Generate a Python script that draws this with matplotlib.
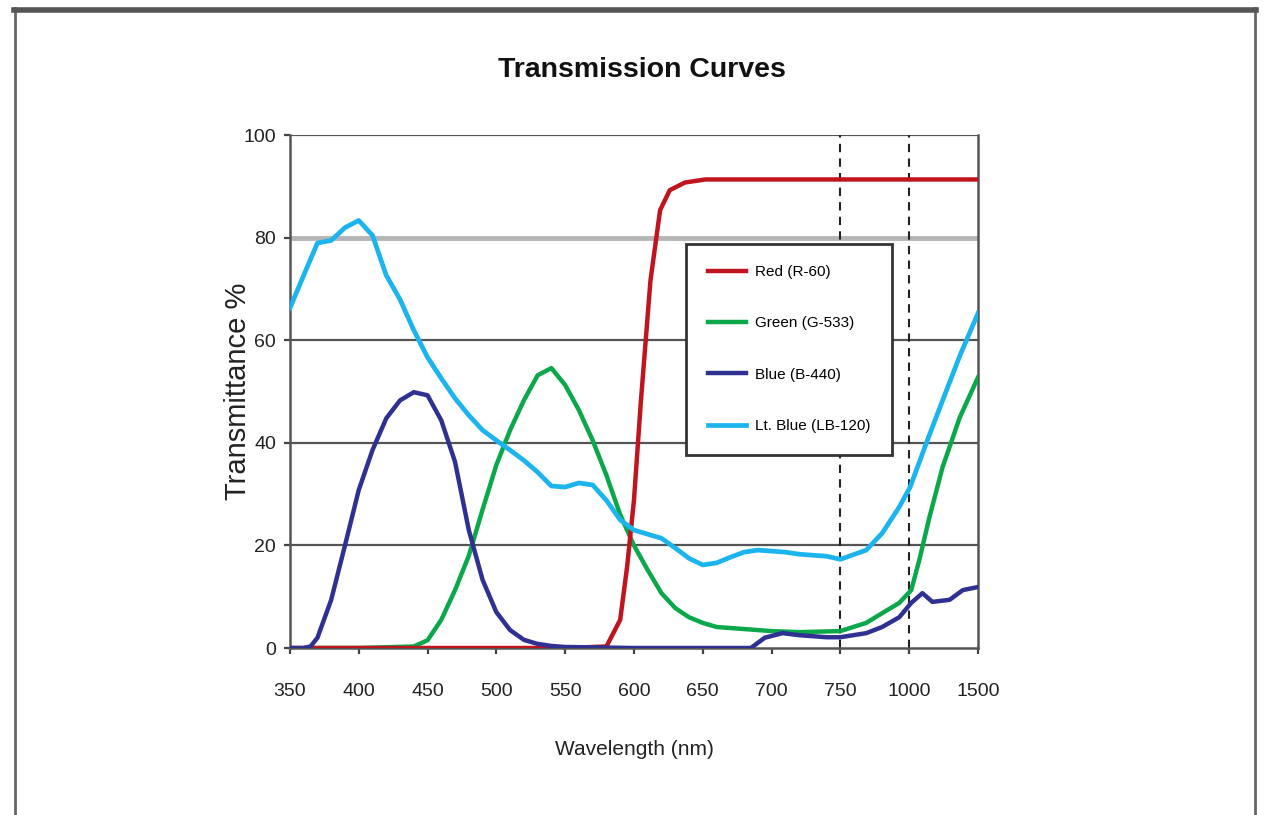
import numpy as np
import matplotlib.pyplot as plt
from matplotlib.lines import Line2D

plt.rcParams['font.family'] = ['Liberation Sans', 'DejaVu Sans']

# axis breaks: equal spacing per tick, even though the last two steps are 250 and 500 nm
tick_nm = [350, 400, 450, 500, 550, 600, 650, 700, 750, 1000, 1500]
tick_labels = [str(t) for t in tick_nm]

red_nm = [350, 440, 500, 550, 580, 590, 595, 600, 605, 612, 619, 626, 637, 652, 700, 750, 1000, 1500]
red_pct = [0, 0, 0, 0, 0.3, 5.5, 15.8, 28.8, 48, 71.7, 85.4, 89.3, 90.8, 91.4, 91.4, 91.4, 91.4, 91.4]

green_nm = [362, 400, 440, 450, 460, 470, 480, 490, 500, 510, 520, 530, 540, 550, 560, 570, 580,
            590, 600, 610, 620, 630, 640, 650, 660, 680, 700, 720, 750, 844, 902, 964, 1015,
            1074, 1147, 1243, 1368, 1500]
green_pct = [0, 0, 0.3, 1.5, 5.5, 11.3, 18, 27, 35.7, 42.5, 48.3, 53.2, 54.6, 51.3, 46.4, 40.5, 33.7,
             26, 20, 15.2, 10.7, 7.8, 6, 4.9, 4.1, 3.7, 3.3, 3.1, 3.3, 4.9, 6.8, 8.8, 11.3,
             17.2, 25.5, 35.3, 45, 52.8]

blue_nm = [350, 360, 365, 370, 380, 390, 400, 410, 420, 430, 440, 450, 460, 470, 480, 490, 500,
           510, 520, 530, 540, 550, 600, 685, 695, 708, 720, 740, 750, 844, 902, 964, 1015,
           1096, 1169, 1294, 1390, 1500]
blue_pct = [0, 0, 0.3, 2, 9.4, 20, 30.8, 38.6, 44.8, 48.3, 49.9, 49.3, 44.4, 36.3, 23, 13.3, 7,
            3.5, 1.6, 0.8, 0.4, 0.2, 0, 0, 2, 2.9, 2.5, 2.1, 2.1, 2.9, 4.1, 6, 8.8,
            10.7, 9, 9.4, 11.3, 11.9]

ltblue_nm = [350, 360, 370, 380, 390, 400, 410, 420, 430, 440, 450, 460, 470, 480, 490, 500,
             510, 520, 530, 540, 550, 560, 570, 580, 590, 600, 610, 620, 630, 640, 650, 660,
             670, 680, 690, 700, 710, 720, 730, 740, 750, 844, 902, 964, 1007, 1125, 1243,
             1368, 1500]
ltblue_pct = [66.3, 72.7, 79, 79.5, 82, 83.4, 80.5, 72.7, 68, 62, 56.7, 52.6, 48.7, 45.4, 42.5, 40.5,
              38.6, 36.6, 34.3, 31.6, 31.4, 32.2, 31.8, 28.8, 25, 23, 22.2, 21.4, 19.5, 17.5, 16.2, 16.6,
              17.7, 18.7, 19.1, 18.9, 18.7, 18.3, 18.1, 17.9, 17.3, 19.1, 22.4, 27.5, 31.4, 40, 48.3,
              57, 65.3]


def to_pos(nm):
    return np.interp(nm, tick_nm, np.arange(len(tick_nm)))


fig = plt.figure(figsize=(12.66, 8.15), dpi=100)
ax = fig.add_axes([0.229, 0.2049, 0.5435, 0.629])

# horizontal grid; the 80 % line is drawn lighter and wider
for y in [20, 40, 60, 100]:
    ax.axhline(y, color='#555555', lw=1.6, zorder=1)
ax.axhline(80, color='#b5b5b5', lw=3.5, zorder=1)
for x in [750, 1000]:
    ax.axvline(to_pos(x), color='#222222', lw=1.5, ls=(0, (4, 3)), zorder=1)

ax.plot(to_pos(red_nm), red_pct, color='#c0141e', lw=3.2, label='Red (R-60)', zorder=3)
ax.plot(to_pos(green_nm), green_pct, color='#0aa84a', lw=3.2, label='Green (G-533)', zorder=2.9)
ax.plot(to_pos(blue_nm), blue_pct, color='#2e3192', lw=3.2, label='Blue (B-440)', zorder=3.1)
ax.plot(to_pos(ltblue_nm), ltblue_pct, color='#1bb4ee', lw=3.4, label='Lt. Blue (LB-120)', zorder=3.2)

ax.set_xlim(0, len(tick_nm) - 1)
ax.set_ylim(0, 100)
ax.set_xticks(np.arange(len(tick_nm)))
ax.set_xticklabels(tick_labels)
ax.set_yticks([0, 20, 40, 60, 80, 100])
ax.tick_params(direction='out', length=4, width=1.6, color='#444444',
               labelsize=14, labelcolor='#222222')
ax.tick_params(axis='x', pad=21)
ax.tick_params(axis='y', pad=6)
for s in ['left', 'bottom', 'right']:
    ax.spines[s].set_color('#555555')
    ax.spines[s].set_linewidth(1.8)
ax.spines['top'].set_visible(False)

ax.set_xlabel('Wavelength (nm)', fontsize=15, color='#222222', labelpad=29)
ax.set_ylabel('Transmittance %', fontsize=21, color='#222222', labelpad=-6)
fig.text(0.507, 0.914, 'Transmission Curves', ha='center', va='center',
         fontsize=20.5, fontweight='bold', color='#111111')

leg = ax.legend(loc='upper left', bbox_to_anchor=(0.576, 0.789), borderaxespad=0,
                fontsize=11, frameon=True, fancybox=False, edgecolor='#333333',
                framealpha=1, handlelength=2.5, handletextpad=0.6, labelspacing=2.45,
                borderpad=1.4)
leg.get_frame().set_linewidth(2)
leg.set_zorder(5)

# page border
fig.add_artist(Line2D([0.012, 0.012], [0, 0.99], color='#666666', lw=2))
fig.add_artist(Line2D([0.991, 0.991], [0, 0.99], color='#666666', lw=2))
fig.add_artist(Line2D([0.011, 0.992], [0.988, 0.988], color='#555555', lw=4))

fig.savefig('out.png', dpi=100)
